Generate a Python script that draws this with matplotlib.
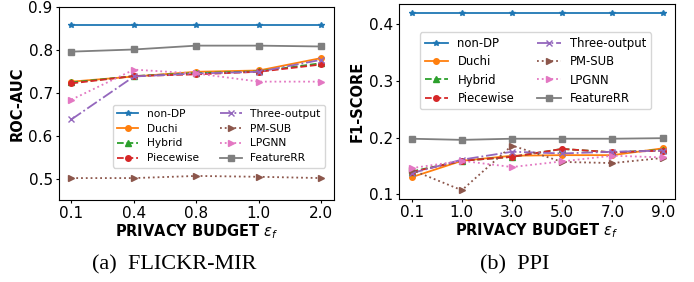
import matplotlib
matplotlib.use("Agg")
import matplotlib.pyplot as plt

# FLICKR-MIR (ROC-AUC)
flickr_budgets = ["0.1", "0.4", "0.8", "1.0", "2.0"]
flickr_nondp = [0.858, 0.858, 0.858, 0.858, 0.858]
flickr_duchi = [0.726, 0.738, 0.749, 0.752, 0.781]
flickr_hybrid = [0.724, 0.739, 0.746, 0.750, 0.769]
flickr_piecewise = [0.722, 0.739, 0.743, 0.749, 0.766]
flickr_three = [0.638, 0.738, 0.745, 0.749, 0.777]
flickr_pmsub = [0.501, 0.501, 0.506, 0.504, 0.501]
flickr_lpgnn = [0.684, 0.754, 0.745, 0.726, 0.726]
flickr_featrr = [0.796, 0.801, 0.810, 0.810, 0.808]

# PPI (F1-SCORE)
ppi_budgets = ["0.1", "1.0", "3.0", "5.0", "7.0", "9.0"]
ppi_nondp = [0.420, 0.420, 0.420, 0.420, 0.420, 0.420]
ppi_duchi = [0.130, 0.159, 0.168, 0.169, 0.169, 0.181]
ppi_hybrid = [0.140, 0.159, 0.166, 0.180, 0.174, 0.178]
ppi_piecewise = [0.139, 0.159, 0.166, 0.180, 0.174, 0.177]
ppi_three = [0.137, 0.161, 0.175, 0.172, 0.175, 0.177]
ppi_pmsub = [0.143, 0.107, 0.186, 0.157, 0.155, 0.164]
ppi_lpgnn = [0.146, 0.159, 0.148, 0.158, 0.168, 0.165]
ppi_featrr = [0.198, 0.196, 0.198, 0.198, 0.198, 0.199]

names = ["non-DP", "Duchi", "Hybrid", "Piecewise", "Three-output",
         "PM-SUB", "LPGNN", "FeatureRR"]
styles = [("C0", "-", "*"), ("C1", "-", "o"), ("C2", "--", "^"),
          ("C3", "--", "o"), ("C4", "-.", "x"), ("C5", ":", ">"),
          ("C6", ":", ">"), ("C7", "-", "s")]


def draw(ax, labels, series, ylabel):
    x = range(len(labels))
    for name, ys, (c, ls, m) in zip(names, series, styles):
        ax.plot(x, ys, color=c, linestyle=ls, marker=m, markersize=4,
                linewidth=1.3, label=name)
    ax.set_xticks(list(x))
    ax.set_xticklabels(labels)
    ax.tick_params(labelsize=11, length=2.5, pad=2)
    ax.set_ylabel(ylabel, fontsize=10.5, fontweight="bold", labelpad=3)
    ax.set_xlabel(r"PRIVACY BUDGET $\varepsilon_f$", fontsize=10.5,
                  fontweight="bold", labelpad=1)


fig = plt.figure(figsize=(6.94, 2.82), dpi=100)
ax1 = fig.add_axes([0.085, 0.291, 0.396, 0.684])
ax2 = fig.add_axes([0.575, 0.294, 0.398, 0.691])

draw(ax1, flickr_budgets,
     [flickr_nondp, flickr_duchi, flickr_hybrid, flickr_piecewise,
      flickr_three, flickr_pmsub, flickr_lpgnn, flickr_featrr], "ROC-AUC")
ax1.set_ylim(0.45, 0.9)
ax1.set_yticks([0.5, 0.6, 0.7, 0.8, 0.9])
ax1.legend(ncol=2, fontsize=7.7, loc="lower left",
           bbox_to_anchor=(0.195, 0.168), borderaxespad=0,
           labelspacing=0.45)

draw(ax2, ppi_budgets,
     [ppi_nondp, ppi_duchi, ppi_hybrid, ppi_piecewise,
      ppi_three, ppi_pmsub, ppi_lpgnn, ppi_featrr], "F1-SCORE")
ax2.set_yticks([0.1, 0.2, 0.3, 0.4])
ax2.legend(ncol=2, fontsize=8.4, loc="lower left",
           bbox_to_anchor=(0.076, 0.46), borderaxespad=0,
           labelspacing=0.45)

fig.text(0.251, 0.06, "(a)  FLICKR-MIR", ha="center", va="center",
         fontsize=16, family="Liberation Serif")
fig.text(0.742, 0.06, "(b)  PPI", ha="center", va="center",
         fontsize=16, family="Liberation Serif")

fig.savefig("out.png", dpi=100)
